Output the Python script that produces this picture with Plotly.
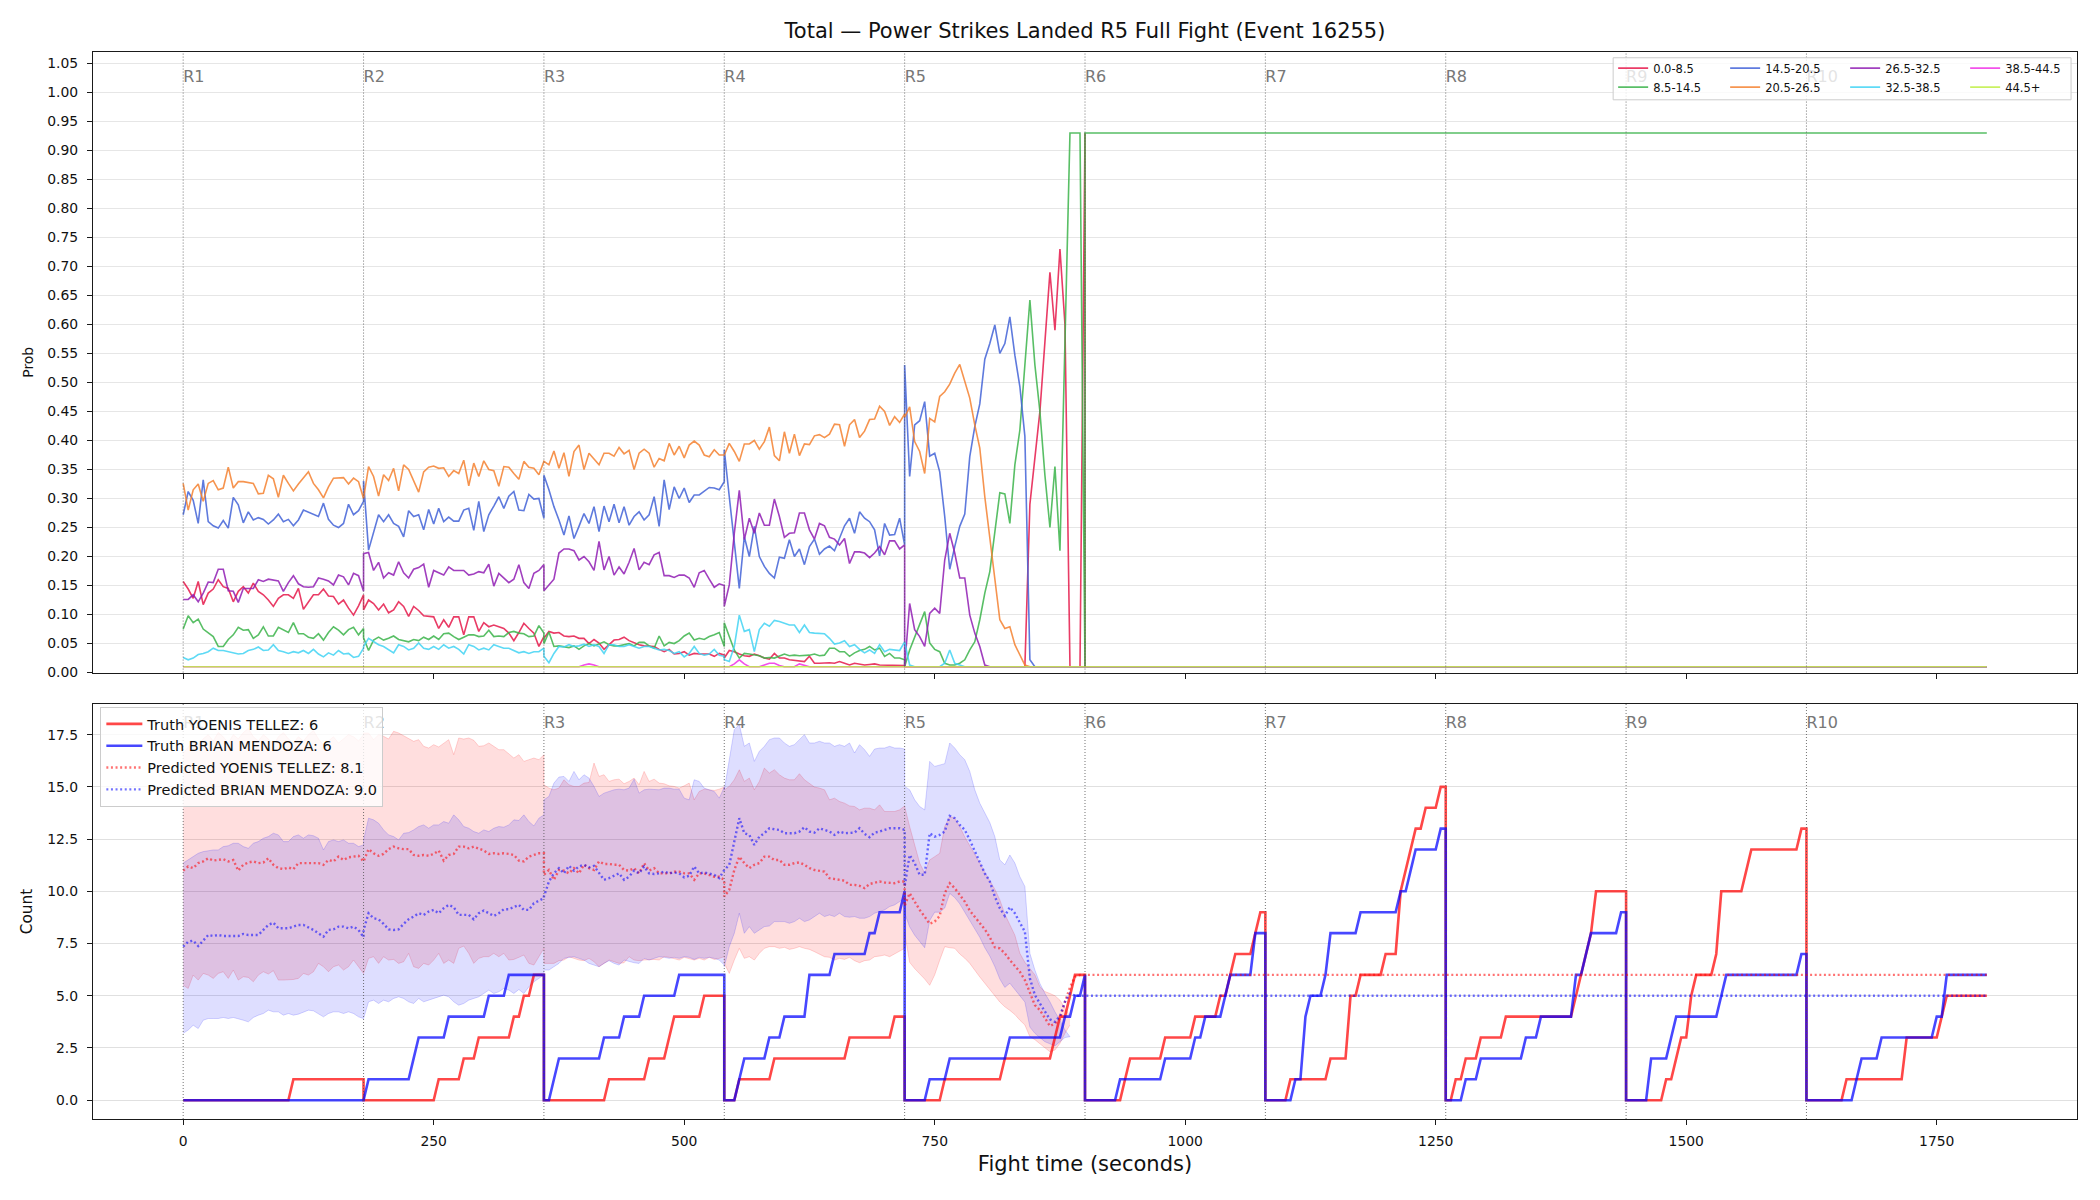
import plotly.graph_objects as go

# ---------------------------------------------------------------- data
ROUND_STARTS = [0, 180, 360, 540, 720, 900, 1080, 1260, 1440, 1620]
ROUND_LABELS = ["R1", "R2", "R3", "R4", "R5", "R6", "R7", "R8", "R9", "R10"]
SAMPLE_STEP = 5          # seconds between samples inside a round
PROB_FREEZE_T = 900      # market probabilities frozen after this time
FIGHT_END_T = 1800
X_TICKS = [0, 250, 500, 750, 1000, 1250, 1500, 1750]

TITLE = "Total \u2014 Power Strikes Landed R5 Full Fight (Event 16255)"

BIN_LABELS = ["0.0-8.5", "8.5-14.5", "14.5-20.5", "20.5-26.5",
              "26.5-32.5", "32.5-38.5", "38.5-44.5", "44.5+"]
BIN_COLORS = ["#e6194b", "#3cb44b", "#4363d8", "#f58231",
              "#911eb4", "#42d4f4", "#f032e6", "#bfef45"]
PROB_FINAL = [0.01, 0.93, 0.01, 0.01, 0.01, 0.01, 0.01, 0.01]

# probability per bin, one list per round (R1..R5), 5 s samples
P_00_08 = [
    [0.157, 0.144, 0.128, 0.157, 0.117, 0.137, 0.144, 0.160, 0.148, 0.145, 0.122, 0.140, 0.148, 0.137, 0.154, 0.140, 0.134, 0.125, 0.114, 0.128, 0.134, 0.134, 0.128, 0.145, 0.109, 0.121, 0.134, 0.134, 0.144, 0.132, 0.131, 0.118, 0.125, 0.111, 0.099, 0.115, 0.134],
    [0.108, 0.125, 0.119, 0.108, 0.118, 0.103, 0.108, 0.122, 0.114, 0.097, 0.114, 0.107, 0.098, 0.097, 0.096, 0.076, 0.091, 0.078, 0.096, 0.096, 0.065, 0.096, 0.096, 0.071, 0.086, 0.079, 0.082, 0.079, 0.076, 0.068, 0.055, 0.069, 0.085, 0.076, 0.068, 0.045, 0.062],
    [0.059, 0.071, 0.068, 0.069, 0.063, 0.062, 0.063, 0.059, 0.059, 0.050, 0.057, 0.051, 0.040, 0.048, 0.056, 0.057, 0.061, 0.055, 0.051, 0.048, 0.046, 0.045, 0.045, 0.040, 0.036, 0.040, 0.032, 0.033, 0.036, 0.030, 0.033, 0.032, 0.032, 0.032, 0.028, 0.033, 0.030],
    [0.025, 0.038, 0.036, 0.032, 0.029, 0.028, 0.032, 0.029, 0.025, 0.023, 0.033, 0.025, 0.025, 0.022, 0.021, 0.021, 0.019, 0.028, 0.016, 0.016, 0.017, 0.017, 0.016, 0.019, 0.016, 0.013, 0.016, 0.014, 0.013, 0.014, 0.015, 0.013, 0.013, 0.012, 0.012, 0.012, 0.012],
    [0.01] * 25 + [0.29, 0.37, 0.45, 0.57, 0.69, 0.59, 0.73, 0.60, 0.01, 0.01, 0.01, 0.93],
]
P_08_14 = [
    [0.075, 0.098, 0.086, 0.092, 0.075, 0.069, 0.062, 0.045, 0.045, 0.057, 0.065, 0.078, 0.073, 0.074, 0.059, 0.065, 0.079, 0.063, 0.063, 0.078, 0.073, 0.069, 0.086, 0.067, 0.067, 0.061, 0.059, 0.067, 0.056, 0.069, 0.079, 0.073, 0.065, 0.074, 0.078, 0.065, 0.076],
    [0.060, 0.038, 0.056, 0.061, 0.056, 0.059, 0.063, 0.057, 0.055, 0.053, 0.057, 0.055, 0.061, 0.057, 0.063, 0.057, 0.067, 0.068, 0.062, 0.057, 0.061, 0.065, 0.065, 0.062, 0.063, 0.073, 0.062, 0.063, 0.062, 0.069, 0.071, 0.068, 0.067, 0.062, 0.063, 0.081, 0.068],
    [0.050, 0.070, 0.045, 0.046, 0.044, 0.043, 0.046, 0.040, 0.046, 0.050, 0.046, 0.050, 0.053, 0.048, 0.046, 0.046, 0.048, 0.050, 0.046, 0.052, 0.052, 0.046, 0.042, 0.063, 0.046, 0.052, 0.050, 0.055, 0.063, 0.068, 0.056, 0.059, 0.057, 0.062, 0.065, 0.069, 0.045],
    [0.086, 0.062, 0.039, 0.025, 0.033, 0.032, 0.030, 0.029, 0.025, 0.026, 0.025, 0.029, 0.032, 0.029, 0.030, 0.029, 0.029, 0.030, 0.032, 0.029, 0.030, 0.042, 0.042, 0.036, 0.036, 0.028, 0.034, 0.038, 0.040, 0.045, 0.039, 0.042, 0.028, 0.033, 0.025, 0.025, 0.022],
    [0.010, 0.039, 0.062, 0.082, 0.105, 0.051, 0.040, 0.036, 0.016, 0.013, 0.013, 0.016, 0.022, 0.039, 0.053, 0.091, 0.137, 0.174, 0.240, 0.310, 0.308, 0.257, 0.358, 0.418, 0.530, 0.642, 0.530, 0.450, 0.340, 0.250, 0.355, 0.210, 0.570, 0.930, 0.930, 0.930, 0.010],
]
P_14_20 = [
    [0.272, 0.312, 0.297, 0.257, 0.332, 0.260, 0.253, 0.249, 0.262, 0.249, 0.302, 0.289, 0.258, 0.277, 0.263, 0.267, 0.264, 0.256, 0.263, 0.273, 0.260, 0.264, 0.253, 0.263, 0.280, 0.276, 0.272, 0.269, 0.292, 0.264, 0.254, 0.250, 0.257, 0.290, 0.272, 0.279, 0.295],
    [0.330, 0.211, 0.243, 0.272, 0.260, 0.272, 0.257, 0.252, 0.234, 0.279, 0.269, 0.272, 0.246, 0.281, 0.256, 0.283, 0.260, 0.268, 0.261, 0.261, 0.280, 0.283, 0.245, 0.295, 0.243, 0.272, 0.287, 0.303, 0.283, 0.304, 0.312, 0.280, 0.279, 0.307, 0.299, 0.300, 0.266],
    [0.340, 0.315, 0.286, 0.263, 0.237, 0.270, 0.231, 0.252, 0.274, 0.257, 0.286, 0.243, 0.287, 0.260, 0.290, 0.258, 0.286, 0.254, 0.269, 0.277, 0.263, 0.272, 0.303, 0.252, 0.332, 0.281, 0.320, 0.300, 0.318, 0.293, 0.306, 0.306, 0.312, 0.319, 0.318, 0.315, 0.329],
    [0.384, 0.303, 0.223, 0.145, 0.234, 0.200, 0.252, 0.200, 0.183, 0.171, 0.163, 0.199, 0.197, 0.229, 0.200, 0.213, 0.186, 0.217, 0.230, 0.204, 0.213, 0.218, 0.210, 0.230, 0.253, 0.266, 0.240, 0.277, 0.266, 0.260, 0.246, 0.201, 0.257, 0.237, 0.238, 0.266, 0.220],
    [0.530, 0.338, 0.427, 0.434, 0.467, 0.373, 0.378, 0.346, 0.269, 0.178, 0.217, 0.252, 0.273, 0.372, 0.424, 0.463, 0.540, 0.567, 0.599, 0.550, 0.567, 0.613, 0.547, 0.493, 0.407, 0.022] + [0.01] * 11,
]
P_20_26 = [
    [0.326, 0.280, 0.315, 0.325, 0.295, 0.326, 0.331, 0.315, 0.318, 0.354, 0.318, 0.329, 0.329, 0.328, 0.326, 0.308, 0.309, 0.340, 0.334, 0.302, 0.340, 0.326, 0.313, 0.325, 0.335, 0.346, 0.326, 0.315, 0.301, 0.320, 0.335, 0.335, 0.336, 0.325, 0.335, 0.329, 0.300],
    [0.300, 0.355, 0.338, 0.304, 0.341, 0.331, 0.352, 0.313, 0.358, 0.350, 0.329, 0.311, 0.346, 0.354, 0.356, 0.352, 0.353, 0.338, 0.348, 0.343, 0.366, 0.322, 0.361, 0.338, 0.365, 0.350, 0.348, 0.321, 0.355, 0.354, 0.343, 0.333, 0.364, 0.354, 0.352, 0.341, 0.364],
    [0.364, 0.358, 0.382, 0.352, 0.379, 0.338, 0.381, 0.392, 0.350, 0.378, 0.368, 0.358, 0.378, 0.378, 0.373, 0.388, 0.377, 0.383, 0.350, 0.378, 0.385, 0.378, 0.354, 0.369, 0.365, 0.395, 0.375, 0.390, 0.370, 0.392, 0.399, 0.392, 0.375, 0.372, 0.384, 0.375, 0.375],
    [0.375, 0.395, 0.381, 0.364, 0.394, 0.394, 0.400, 0.385, 0.398, 0.423, 0.374, 0.365, 0.415, 0.378, 0.411, 0.374, 0.394, 0.393, 0.408, 0.410, 0.405, 0.411, 0.428, 0.427, 0.390, 0.427, 0.436, 0.405, 0.416, 0.436, 0.437, 0.459, 0.450, 0.426, 0.441, 0.431, 0.446],
    [0.440, 0.458, 0.398, 0.381, 0.343, 0.438, 0.432, 0.476, 0.484, 0.497, 0.516, 0.531, 0.504, 0.473, 0.427, 0.387, 0.303, 0.229, 0.165, 0.091, 0.076, 0.079, 0.048, 0.030, 0.013] + [0.01] * 12,
]
P_26_32 = [
    [0.126, 0.126, 0.134, 0.122, 0.137, 0.156, 0.155, 0.178, 0.178, 0.141, 0.140, 0.121, 0.145, 0.145, 0.145, 0.160, 0.157, 0.161, 0.160, 0.158, 0.140, 0.155, 0.167, 0.153, 0.148, 0.147, 0.148, 0.163, 0.161, 0.158, 0.151, 0.168, 0.165, 0.151, 0.171, 0.167, 0.140],
    [0.205, 0.207, 0.176, 0.190, 0.163, 0.172, 0.168, 0.191, 0.172, 0.163, 0.178, 0.181, 0.187, 0.147, 0.176, 0.172, 0.168, 0.182, 0.176, 0.176, 0.176, 0.168, 0.170, 0.174, 0.172, 0.187, 0.149, 0.171, 0.163, 0.155, 0.161, 0.186, 0.155, 0.145, 0.171, 0.176, 0.186],
    [0.141, 0.151, 0.161, 0.206, 0.213, 0.213, 0.210, 0.194, 0.200, 0.191, 0.176, 0.226, 0.177, 0.200, 0.168, 0.182, 0.170, 0.190, 0.214, 0.177, 0.190, 0.186, 0.203, 0.207, 0.167, 0.167, 0.164, 0.168, 0.168, 0.163, 0.147, 0.172, 0.176, 0.161, 0.147, 0.153, 0.150],
    [0.114, 0.151, 0.240, 0.314, 0.229, 0.266, 0.240, 0.275, 0.254, 0.254, 0.299, 0.269, 0.233, 0.240, 0.241, 0.275, 0.275, 0.246, 0.230, 0.257, 0.253, 0.233, 0.230, 0.220, 0.231, 0.188, 0.208, 0.208, 0.206, 0.198, 0.206, 0.217, 0.203, 0.227, 0.227, 0.213, 0.220],
    [0.010, 0.119, 0.074, 0.062, 0.045, 0.102, 0.111, 0.102, 0.194, 0.240, 0.206, 0.163, 0.163, 0.099, 0.068, 0.045, 0.013] + [0.01] * 20,
]
P_32_38 = [
    [0.026, 0.022, 0.025, 0.031, 0.033, 0.036, 0.042, 0.038, 0.038, 0.036, 0.034, 0.032, 0.033, 0.038, 0.040, 0.044, 0.038, 0.039, 0.048, 0.038, 0.036, 0.033, 0.036, 0.034, 0.038, 0.033, 0.040, 0.032, 0.027, 0.034, 0.030, 0.038, 0.032, 0.033, 0.026, 0.028, 0.042],
    [0.045, 0.059, 0.053, 0.048, 0.045, 0.040, 0.034, 0.048, 0.045, 0.039, 0.042, 0.051, 0.042, 0.040, 0.045, 0.040, 0.048, 0.042, 0.045, 0.040, 0.032, 0.048, 0.045, 0.039, 0.042, 0.039, 0.048, 0.045, 0.042, 0.042, 0.038, 0.034, 0.036, 0.033, 0.036, 0.036, 0.042],
    [0.028, 0.017, 0.033, 0.045, 0.044, 0.048, 0.045, 0.046, 0.049, 0.045, 0.048, 0.045, 0.033, 0.048, 0.048, 0.045, 0.045, 0.048, 0.045, 0.042, 0.045, 0.045, 0.042, 0.039, 0.040, 0.038, 0.033, 0.036, 0.027, 0.033, 0.045, 0.033, 0.030, 0.032, 0.040, 0.030, 0.028],
    [0.022, 0.019, 0.045, 0.099, 0.071, 0.074, 0.036, 0.074, 0.085, 0.080, 0.090, 0.088, 0.085, 0.082, 0.082, 0.069, 0.082, 0.069, 0.068, 0.068, 0.067, 0.059, 0.049, 0.051, 0.055, 0.045, 0.048, 0.040, 0.034, 0.039, 0.033, 0.048, 0.036, 0.040, 0.039, 0.038, 0.053],
    [0.053, 0.013, 0.010, 0.010, 0.010, 0.010, 0.010, 0.010, 0.016, 0.039, 0.016, 0.013] + [0.01] * 25,
]
P_38_44 = [
    [0.01] * 37,
    [0.01] * 37,
    [0.01] * 8 + [0.013, 0.015, 0.013] + [0.01] * 26,
    [0.010, 0.010, 0.015, 0.022, 0.015, 0.010, 0.010, 0.010, 0.013, 0.016, 0.016, 0.012, 0.010, 0.010, 0.010, 0.015, 0.013] + [0.01] * 20,
    [0.01] * 37,
]
P_44_UP = [[0.01] * 37, [0.01] * 37, [0.01] * 37, [0.01] * 37, [0.01] * 37]

PROB_SERIES = [P_00_08, P_08_14, P_14_20, P_20_26, P_26_32, P_32_38, P_38_44, P_44_UP]

# ---- bottom panel: counts
FIGHTERS = ["YOENIS TELLEZ", "BRIAN MENDOZA"]
TRUTH_TOTAL = [6, 6]
PRED_TOTAL = [8.1, 9.0]

TRUTH_TELLEZ = [
    [0, 0, 0, 0, 0, 0, 0, 0, 0, 0, 0, 0, 0, 0, 0, 0, 0, 0, 0, 0, 0, 0, 1, 1, 1, 1, 1, 1, 1, 1, 1, 1, 1, 1, 1, 1, 1],
    [0, 0, 0, 0, 0, 0, 0, 0, 0, 0, 0, 0, 0, 0, 0, 1, 1, 1, 1, 1, 2, 2, 2, 3, 3, 3, 3, 3, 3, 3, 4, 4, 5, 5, 6, 6, 6],
    [0, 0, 0, 0, 0, 0, 0, 0, 0, 0, 0, 0, 0, 1, 1, 1, 1, 1, 1, 1, 1, 2, 2, 2, 2, 3, 4, 4, 4, 4, 4, 4, 5, 5, 5, 5, 5],
    [0, 0, 0, 1, 1, 1, 1, 1, 1, 1, 2, 2, 2, 2, 2, 2, 2, 2, 2, 2, 2, 2, 2, 2, 2, 3, 3, 3, 3, 3, 3, 3, 3, 3, 4, 4, 4],
    [0, 0, 0, 0, 0, 0, 0, 0, 1, 1, 1, 1, 1, 1, 1, 1, 1, 1, 1, 1, 2, 2, 2, 2, 2, 2, 2, 2, 2, 2, 3, 4, 4, 5, 6, 6, 6],
    [0, 0, 0, 0, 0, 0, 0, 0, 1, 2, 2, 2, 2, 2, 2, 2, 3, 3, 3, 3, 3, 3, 4, 4, 4, 4, 4, 5, 5, 6, 7, 7, 7, 7, 8, 9, 9],
    [0, 0, 0, 0, 0, 1, 1, 1, 1, 1, 1, 1, 1, 2, 2, 2, 2, 5, 5, 6, 6, 6, 6, 6, 7, 7, 7, 10, 11, 12, 13, 13, 14, 14, 14, 15, 15],
    [0, 0, 1, 1, 2, 2, 2, 3, 3, 3, 3, 3, 4, 4, 4, 4, 4, 4, 4, 4, 4, 4, 4, 4, 4, 4, 5, 6, 7, 8, 10, 10, 10, 10, 10, 10, 10],
    [0, 0, 0, 0, 0, 0, 0, 0, 1, 1, 2, 3, 3, 5, 6, 6, 6, 6, 7, 10, 10, 10, 10, 10, 11, 12, 12, 12, 12, 12, 12, 12, 12, 12, 12, 13, 13],
    [0, 0, 0, 0, 0, 0, 0, 0, 1, 1, 1, 1, 1, 1, 1, 1, 1, 1, 1, 1, 3, 3, 3, 3, 3, 3, 3, 4, 5, 5, 5, 5, 5, 5, 5, 5, 5],
]
TRUTH_MENDOZA = [
    [0, 0, 0, 0, 0, 0, 0, 0, 0, 0, 0, 0, 0, 0, 0, 0, 0, 0, 0, 0, 0, 0, 0, 0, 0, 0, 0, 0, 0, 0, 0, 0, 0, 0, 0, 0, 0],
    [0, 1, 1, 1, 1, 1, 1, 1, 1, 1, 2, 3, 3, 3, 3, 3, 3, 4, 4, 4, 4, 4, 4, 4, 4, 5, 5, 5, 5, 6, 6, 6, 6, 6, 6, 6, 6],
    [0, 0, 1, 2, 2, 2, 2, 2, 2, 2, 2, 2, 3, 3, 3, 3, 4, 4, 4, 4, 5, 5, 5, 5, 5, 5, 5, 6, 6, 6, 6, 6, 6, 6, 6, 6, 6],
    [0, 0, 0, 1, 2, 2, 2, 2, 2, 3, 3, 3, 4, 4, 4, 4, 4, 6, 6, 6, 6, 6, 7, 7, 7, 7, 7, 7, 7, 8, 8, 9, 9, 9, 9, 9, 10],
    [0, 0, 0, 0, 0, 1, 1, 1, 1, 2, 2, 2, 2, 2, 2, 2, 2, 2, 2, 2, 2, 3, 3, 3, 3, 3, 3, 3, 3, 3, 3, 3, 4, 4, 5, 5, 6],
    [0, 0, 0, 0, 0, 0, 0, 1, 1, 1, 1, 1, 1, 1, 1, 1, 2, 2, 2, 2, 2, 2, 3, 3, 4, 4, 4, 4, 5, 6, 6, 6, 6, 6, 8, 8, 8],
    [0, 0, 0, 0, 0, 0, 1, 1, 4, 5, 5, 5, 6, 8, 8, 8, 8, 8, 8, 9, 9, 9, 9, 9, 9, 9, 9, 10, 10, 11, 12, 12, 12, 12, 12, 13, 13],
    [0, 0, 0, 0, 1, 1, 1, 2, 2, 2, 2, 2, 2, 2, 2, 2, 3, 3, 3, 4, 4, 4, 4, 4, 4, 4, 6, 6, 7, 8, 8, 8, 8, 8, 8, 9, 9],
    [0, 0, 0, 0, 0, 2, 2, 2, 2, 3, 4, 4, 4, 4, 4, 4, 4, 4, 4, 5, 6, 6, 6, 6, 6, 6, 6, 6, 6, 6, 6, 6, 6, 6, 6, 7, 7],
    [0, 0, 0, 0, 0, 0, 0, 0, 0, 0, 1, 2, 2, 2, 2, 3, 3, 3, 3, 3, 3, 3, 3, 3, 3, 3, 4, 4, 6, 6, 6, 6, 6, 6, 6, 6, 6],
]

PRED_TELLEZ = [
    [10.99, 11.19, 11.11, 11.35, 11.43, 11.58, 11.47, 11.50, 11.54, 11.43, 11.50, 10.99, 11.27, 11.38, 11.43, 11.35, 11.38, 11.58, 11.27, 11.11, 11.06, 11.14, 11.06, 11.35, 11.35, 11.35, 11.35, 11.35, 11.27, 11.50, 11.43, 11.66, 11.50, 11.63, 11.66, 11.70, 11.43],
    [11.43, 12.02, 11.82, 11.70, 11.79, 12.02, 12.14, 12.06, 12.02, 12.02, 11.74, 11.70, 11.74, 11.70, 11.79, 11.95, 11.47, 11.74, 11.79, 12.14, 12.14, 12.06, 12.14, 12.06, 11.95, 11.79, 11.82, 11.79, 11.82, 11.79, 11.74, 11.47, 11.43, 11.66, 11.74, 11.82, 11.82],
    [10.79, 11.02, 10.55, 11.02, 10.99, 10.86, 11.11, 10.86, 11.27, 11.11, 11.02, 11.43, 11.31, 11.31, 11.27, 11.27, 11.02, 10.99, 11.11, 10.86, 11.35, 10.99, 11.11, 10.86, 10.86, 10.86, 10.94, 10.94, 10.86, 10.86, 10.55, 10.86, 10.86, 10.79, 10.70, 10.70, 10.55],
    [9.75, 10.07, 11.02, 11.66, 11.35, 11.11, 11.27, 11.35, 11.66, 11.66, 11.50, 11.50, 11.27, 11.27, 11.35, 11.38, 11.27, 11.11, 11.02, 10.99, 10.94, 10.63, 10.58, 10.55, 10.51, 10.31, 10.31, 10.26, 10.15, 10.35, 10.42, 10.47, 10.42, 10.39, 10.39, 10.47, 10.47],
    [9.30, 9.91, 9.51, 9.11, 8.79, 8.44, 8.55, 8.82, 9.91, 10.39, 10.15, 9.83, 9.51, 9.08, 8.79, 8.50, 8.18, 7.80, 7.32, 7.27, 7.03, 6.71, 6.42, 6.15, 5.75, 5.11, 4.55, 4.31, 3.91, 3.55, 3.67, 3.91, 4.71, 5.40, 5.91, 6.00, 6.00],
]
PRED_MENDOZA = [
    [7.35, 7.59, 7.64, 7.38, 7.64, 7.91, 7.86, 7.91, 7.86, 7.86, 7.86, 7.86, 7.96, 7.91, 7.91, 7.91, 8.15, 8.39, 8.50, 8.23, 8.23, 8.23, 8.31, 8.39, 8.39, 8.28, 8.15, 7.99, 7.83, 8.15, 8.18, 8.31, 8.31, 8.23, 8.31, 8.15, 7.80],
    [8.15, 8.95, 8.71, 8.66, 8.44, 8.18, 8.15, 8.18, 8.44, 8.66, 8.79, 8.95, 8.87, 9.03, 9.11, 8.95, 9.19, 9.35, 9.24, 8.87, 8.87, 8.87, 8.66, 8.95, 9.08, 8.95, 8.82, 8.95, 9.14, 9.14, 9.24, 9.35, 9.11, 9.11, 9.43, 9.55, 9.67],
    [9.75, 10.47, 10.86, 11.11, 10.86, 11.22, 10.99, 11.19, 11.27, 11.15, 11.22, 10.86, 10.55, 10.63, 10.74, 10.86, 10.55, 10.70, 10.99, 10.86, 11.19, 10.86, 10.83, 10.86, 10.94, 10.86, 10.90, 10.86, 10.67, 10.74, 11.19, 10.86, 10.90, 10.86, 10.79, 10.63, 11.02],
    [11.02, 11.27, 12.46, 13.50, 12.78, 12.70, 12.22, 12.62, 12.78, 13.02, 12.97, 12.94, 12.78, 12.78, 12.78, 12.86, 13.07, 12.86, 12.81, 13.02, 12.94, 12.86, 12.70, 12.86, 12.78, 12.78, 12.81, 13.02, 12.75, 12.59, 12.81, 12.86, 12.94, 13.02, 13.02, 13.02, 12.94],
    [10.23, 11.74, 11.35, 10.79, 10.79, 12.78, 12.62, 12.70, 12.86, 13.61, 13.50, 13.18, 12.94, 12.46, 11.90, 11.42, 10.86, 10.47, 9.75, 9.19, 8.82, 9.24, 8.95, 8.50, 8.07, 5.83, 5.03, 4.63, 4.23, 3.87, 3.75, 4.03, 4.71, 5.11, 5.00, 5.00, 5.00],
]
PRED_FINAL = [6.0, 5.0]

BAND_TELLEZ_HI = [
    [16.6, 16.9, 17.2, 17.0, 17.3, 17.5, 17.2, 17.6, 17.4, 17.1, 17.5, 17.3, 17.6, 17.8, 17.4, 17.2, 17.5, 17.3, 17.0, 17.4, 17.6, 17.3, 17.1, 17.4, 17.2, 17.5, 17.7, 17.3, 17.0, 17.2, 17.4, 17.1, 17.3, 17.5, 17.4, 17.2, 17.5],
    [17.58, 17.58, 17.26, 17.50, 17.42, 17.29, 17.66, 17.58, 17.45, 17.34, 17.18, 17.26, 16.94, 16.86, 17.02, 16.91, 17.10, 17.26, 16.54, 17.34, 17.29, 17.34, 17.23, 16.94, 16.97, 17.10, 16.94, 16.78, 16.78, 16.59, 16.38, 16.54, 16.22, 16.30, 16.38, 16.30, 16.54],
    [15.10, 14.94, 14.86, 14.94, 15.34, 15.10, 15.02, 15.02, 15.18, 15.21, 16.14, 15.50, 15.58, 15.26, 15.34, 15.37, 15.15, 15.26, 15.42, 15.10, 15.74, 15.26, 15.37, 15.18, 15.15, 15.05, 15.02, 14.94, 15.05, 15.18, 14.38, 14.78, 14.89, 14.86, 14.83, 14.89, 14.99],
    [14.86, 15.02, 15.34, 15.82, 15.26, 15.42, 14.86, 15.26, 15.90, 15.66, 15.82, 15.58, 15.42, 15.34, 15.34, 15.63, 15.34, 15.18, 14.99, 14.94, 14.86, 14.38, 14.46, 14.30, 14.22, 14.09, 14.06, 13.90, 13.98, 13.98, 13.90, 14.14, 13.82, 13.82, 13.82, 13.90, 14.09],
    [14.06, 13.10, 12.20, 11.35, 10.87, 11.50, 11.66, 11.82, 13.10, 13.58, 13.50, 13.10, 12.60, 12.20, 11.80, 11.35, 10.90, 10.50, 10.10, 9.59, 8.90, 8.40, 7.90, 7.03, 6.60, 6.30, 6.00, 5.43, 5.20, 5.11, 5.00, 4.79, 4.40, 4.00],
]
BAND_TELLEZ_LO = [
    [5.51, 5.35, 5.99, 5.75, 6.07, 5.99, 5.83, 6.07, 6.15, 5.83, 6.23, 5.75, 5.91, 5.88, 5.67, 5.99, 6.15, 6.04, 6.20, 5.75, 5.75, 5.75, 5.78, 5.83, 6.07, 5.99, 6.15, 6.55, 6.39, 6.15, 6.39, 6.47, 6.23, 6.39, 6.71, 6.39, 6.07],
    [6.07, 6.79, 6.87, 6.55, 6.87, 6.71, 6.74, 6.55, 6.63, 7.03, 6.39, 6.31, 6.55, 6.47, 6.71, 7.03, 6.55, 6.71, 6.55, 7.27, 7.38, 7.03, 6.55, 6.79, 6.87, 6.87, 7.03, 6.87, 7.03, 6.71, 6.74, 6.84, 6.95, 6.55, 6.47, 6.87, 7.27],
    [6.55, 6.55, 6.55, 6.68, 6.71, 6.87, 6.79, 6.71, 6.68, 6.79, 6.63, 6.39, 6.55, 6.71, 6.63, 6.55, 6.58, 6.87, 6.71, 6.68, 6.71, 6.74, 6.74, 6.71, 6.87, 6.84, 6.79, 6.71, 6.84, 6.79, 6.71, 6.79, 6.71, 6.84, 6.74, 6.79, 6.87],
    [6.55, 6.07, 6.71, 7.27, 6.79, 6.87, 6.71, 7.03, 7.27, 7.35, 7.35, 7.27, 7.32, 7.22, 7.27, 7.35, 7.27, 7.22, 7.11, 6.99, 6.87, 6.84, 6.71, 6.79, 6.74, 6.84, 6.68, 6.58, 6.68, 6.71, 6.87, 6.90, 6.95, 6.87, 6.99, 7.11, 7.27],
    [8.00, 6.60, 6.30, 6.07, 5.80, 5.50, 6.00, 6.70, 7.35, 7.30, 7.27, 7.00, 6.80, 6.55, 6.20, 5.90, 5.60, 5.27, 5.00, 4.70, 4.47, 4.30, 4.10, 3.83, 3.60, 3.04, 2.90, 2.70, 2.50, 2.32, 2.40, 2.72, 3.20, 3.60],
]
BAND_MENDOZA_HI = [
    [11.35, 11.50, 11.66, 11.82, 11.90, 11.95, 11.98, 11.98, 12.14, 12.18, 12.30, 12.30, 12.14, 12.06, 12.30, 12.38, 12.54, 12.62, 12.78, 12.70, 12.38, 12.38, 12.62, 12.70, 12.54, 12.70, 12.66, 12.54, 11.98, 12.38, 12.46, 12.38, 12.46, 12.30, 12.30, 12.14, 12.22],
    [12.46, 13.50, 13.42, 13.26, 12.94, 12.70, 12.62, 12.46, 12.78, 12.81, 12.94, 13.10, 13.18, 13.02, 13.18, 13.18, 13.34, 13.26, 13.66, 13.42, 13.10, 13.02, 12.86, 12.78, 12.94, 12.86, 13.02, 13.10, 13.07, 13.18, 13.42, 13.39, 13.66, 13.34, 13.13, 13.50, 13.66],
    [14.38, 14.54, 15.18, 15.47, 15.50, 15.26, 15.74, 15.34, 15.58, 15.42, 15.02, 14.54, 14.70, 14.78, 14.86, 14.89, 14.86, 14.94, 15.37, 14.70, 14.86, 14.89, 14.89, 14.86, 14.94, 14.94, 14.89, 14.89, 14.46, 14.38, 15.34, 15.26, 14.94, 14.86, 14.78, 14.46, 14.99],
    [14.86, 16.30, 17.74, 17.98, 16.94, 17.10, 16.22, 16.70, 16.94, 17.26, 17.34, 17.34, 17.10, 16.94, 17.02, 17.26, 17.50, 17.10, 17.10, 17.18, 17.10, 17.10, 16.94, 17.02, 16.94, 17.10, 16.62, 17.02, 16.78, 16.46, 16.81, 16.86, 16.86, 16.94, 16.86, 16.86, 16.81],
    [15.02, 14.86, 14.38, 14.06, 13.90, 16.22, 15.98, 16.06, 16.11, 17.10, 16.86, 16.54, 16.30, 15.74, 14.86, 14.22, 13.74, 13.29, 12.62, 11.50, 11.27, 11.74, 11.35, 10.70, 10.23, 7.03, 6.23, 5.59, 5.11, 4.71, 4.23, 3.83, 3.36, 3.04],
]
BAND_MENDOZA_LO = [
    [3.20, 3.36, 3.59, 3.43, 3.83, 3.91, 3.91, 3.91, 3.96, 3.91, 3.96, 3.91, 3.83, 3.75, 3.96, 4.07, 4.15, 4.31, 4.23, 4.23, 4.07, 4.15, 4.07, 4.12, 4.23, 4.31, 4.28, 4.15, 3.99, 4.15, 4.23, 4.23, 4.15, 4.23, 4.15, 3.99, 3.91],
    [3.91, 4.71, 4.79, 4.63, 4.79, 4.71, 4.87, 4.95, 4.87, 4.71, 4.63, 4.87, 4.71, 4.79, 4.87, 4.95, 5.03, 4.95, 4.71, 4.55, 4.63, 4.79, 4.87, 4.95, 5.11, 5.27, 5.11, 5.19, 5.35, 5.27, 5.11, 5.30, 5.11, 5.43, 5.67, 5.83, 5.99],
    [6.23, 6.23, 6.39, 6.55, 6.79, 6.84, 6.87, 6.79, 6.71, 6.55, 6.47, 6.39, 6.55, 6.68, 6.55, 6.47, 6.71, 6.63, 6.58, 6.55, 6.79, 6.71, 6.79, 6.87, 6.84, 6.79, 6.84, 6.79, 6.87, 6.84, 6.74, 6.84, 6.79, 6.84, 6.79, 6.71, 6.47],
    [6.39, 7.35, 7.99, 8.95, 7.99, 8.31, 7.99, 8.15, 8.31, 8.34, 8.55, 8.55, 8.55, 8.47, 8.55, 8.71, 8.55, 8.63, 8.79, 8.95, 8.79, 8.87, 8.79, 8.95, 8.79, 8.76, 8.79, 8.71, 8.71, 8.79, 8.95, 9.03, 9.11, 9.27, 9.35, 9.51, 9.67],
    [8.95, 8.30, 7.90, 7.60, 7.30, 8.60, 9.00, 9.00, 9.20, 9.90, 9.70, 9.40, 9.00, 8.60, 8.20, 7.80, 7.30, 6.90, 6.40, 5.80, 5.40, 5.60, 5.30, 5.00, 4.70, 3.50, 3.20, 3.00, 2.80, 2.70, 2.60, 2.80, 3.00, 3.04],
]


# ---------------------------------------------------------------- helpers
def round_x(rounds):
    xs = []
    for r, vals in enumerate(rounds):
        xs.extend(ROUND_STARTS[r] + SAMPLE_STEP * k for k in range(len(vals)))
    return xs


def flat(rounds):
    return [v for vals in rounds for v in vals]


fig = go.Figure()

# ---------------------------------------------------------------- top panel
LEGEND_COL_W = [67, 75, 75, 62]
for i, (lab, col, rounds, fin) in enumerate(zip(BIN_LABELS, BIN_COLORS, PROB_SERIES, PROB_FINAL)):
    fig.add_trace(go.Scatter(
        x=round_x(rounds) + [PROB_FREEZE_T, FIGHT_END_T],
        y=flat(rounds) + [fin, fin],
        mode="lines", name=lab,
        line=dict(color=col, width=1.6), opacity=0.85,
        xaxis="x", yaxis="y",
        legend="legend" if i % 2 == 0 else "legend3",
        legendwidth=LEGEND_COL_W[i // 2],
        hoverinfo="skip",
    ))

fig.add_trace(go.Scatter(
    x=ROUND_STARTS, y=[1.025] * len(ROUND_STARTS), text=ROUND_LABELS,
    mode="text", textposition="middle right",
    textfont=dict(size=16, color="#777777", family="DejaVu Sans"),
    xaxis="x", yaxis="y", showlegend=False, hoverinfo="skip",
))

# ---------------------------------------------------------------- bottom panel
band_specs = [
    (BAND_TELLEZ_HI, BAND_TELLEZ_LO, "rgba(255,0,0,0.13)", "rgba(255,0,0,0.16)"),
    (BAND_MENDOZA_HI, BAND_MENDOZA_LO, "rgba(0,0,255,0.13)", "rgba(0,0,255,0.16)"),
]
for hi, lo, fillc, edgec in band_specs:
    fig.add_trace(go.Scatter(x=round_x(hi), y=flat(hi), mode="lines",
                             line=dict(color=edgec, width=1), xaxis="x2", yaxis="y2",
                             showlegend=False, legend="legend2", hoverinfo="skip"))
    fig.add_trace(go.Scatter(x=round_x(lo), y=flat(lo), mode="lines",
                             line=dict(color=edgec, width=1), fill="tonexty", fillcolor=fillc,
                             xaxis="x2", yaxis="y2", showlegend=False, legend="legend2",
                             hoverinfo="skip"))

truth_cols = ["rgba(255,0,0,0.72)", "rgba(0,0,255,0.72)"]
pred_cols = ["rgba(255,0,0,0.55)", "rgba(0,0,255,0.55)"]
for name, tot, rounds, col in zip(FIGHTERS, TRUTH_TOTAL, [TRUTH_TELLEZ, TRUTH_MENDOZA], truth_cols):
    fig.add_trace(go.Scatter(x=round_x(rounds), y=flat(rounds), mode="lines",
                             name=f"Truth {name}: {tot}",
                             line=dict(color=col, width=2.6),
                             xaxis="x2", yaxis="y2", legend="legend2", hoverinfo="skip"))
for name, tot, rounds, fin, col in zip(FIGHTERS, PRED_TOTAL, [PRED_TELLEZ, PRED_MENDOZA], PRED_FINAL, pred_cols):
    fig.add_trace(go.Scatter(x=round_x(rounds) + [FIGHT_END_T], y=flat(rounds) + [fin], mode="lines",
                             name=f"Predicted {name}: {tot}",
                             line=dict(color=col, width=2.4, dash="2px,2.6px"),
                             xaxis="x2", yaxis="y2", legend="legend2", hoverinfo="skip"))

fig.add_trace(go.Scatter(
    x=ROUND_STARTS, y=[18.0] * len(ROUND_STARTS), text=ROUND_LABELS,
    mode="text", textposition="middle right",
    textfont=dict(size=16, color="#777777", family="DejaVu Sans"),
    xaxis="x2", yaxis="y2", showlegend=False, legend="legend2", hoverinfo="skip",
))

# ---------------------------------------------------------------- shapes
shapes = []
for xr, yr in (("x", "y domain"), ("x2", "y2 domain")):
    for s in ROUND_STARTS:
        shapes.append(dict(type="line", xref=xr, yref=yr, x0=s, x1=s, y0=0, y1=1,
                           line=dict(color="rgba(80,80,80,0.8)", width=1, dash="1px,2px"),
                           layer="above"))
shapes.append(dict(type="rect", xref="paper", yref="paper",
                   x0=0.7662, x1=0.9970, y0=0.9552, y1=0.9946,
                   line=dict(color="#cccccc", width=1),
                   fillcolor="rgba(255,255,255,0.8)", layer="above"))

# ---------------------------------------------------------------- layout
axis_common = dict(showline=True, mirror=True, linecolor="#1a1a1a", linewidth=1.3,
                   ticks="outside", ticklen=5, tickwidth=1.1, tickcolor="#1a1a1a",
                   zeroline=False, tickfont=dict(size=13.9))

fig.update_layout(
    width=2100, height=1200,
    margin=dict(l=92.7, r=23, t=52.2, b=81, autoexpand=False),
    paper_bgcolor="white", plot_bgcolor="white",
    font=dict(family="DejaVu Sans", color="#111111", size=13.9),
    hovermode=False,
    title=dict(text=TITLE, x=0.5, xref="paper", xanchor="center",
               y=1 - 31 / 1200, yref="container", yanchor="middle",
               font=dict(size=21, color="#111111")),
    xaxis=dict(domain=[0, 1], anchor="y", range=[-90, 1890], tickvals=X_TICKS,
               showticklabels=False, showgrid=False, **axis_common),
    yaxis=dict(domain=[0.4184, 1], anchor="x", range=[0, 1.0695], tick0=0, dtick=0.05,
               tickformat=".2f", showgrid=True, gridcolor="#e6e6e6", gridwidth=1,
               ticklabelstandoff=6,
               title=dict(text="Prob", font=dict(size=13.9), standoff=10), **axis_common),
    xaxis2=dict(domain=[0, 1], anchor="y2", range=[-90, 1890], tickvals=X_TICKS,
                matches="x", showgrid=False, ticklabelstandoff=4,
                title=dict(text="Fight time (seconds)", font=dict(size=21), standoff=8),
                **axis_common),
    yaxis2=dict(domain=[0, 0.389], anchor="x2", range=[-0.9, 18.97], tick0=0, dtick=2.5,
                tickformat=".1f", showgrid=True, gridcolor="#e0e0e0", gridwidth=1,
                ticklabelstandoff=6,
                title=dict(text="Count", font=dict(size=15.3), standoff=10), **axis_common),
    legend=dict(x=0.7662, y=0.9985, xanchor="left", yanchor="top", orientation="h",
                traceorder="normal",
                bgcolor="rgba(0,0,0,0)", borderwidth=0, font=dict(size=11.5),
                itemwidth=30, tracegroupgap=0),
    legend3=dict(x=0.7662, y=0.9807, xanchor="left", yanchor="top", orientation="h",
                 traceorder="normal",
                 bgcolor="rgba(0,0,0,0)", borderwidth=0, font=dict(size=11.5),
                 itemwidth=30, tracegroupgap=0),
    legend2=dict(x=0.0037, y=0.3862, xanchor="left", yanchor="top", orientation="v",
                 traceorder="normal",
                 bgcolor="rgba(255,255,255,0.8)", bordercolor="#cccccc", borderwidth=1,
                 font=dict(size=14.5), itemwidth=36, tracegroupgap=0),
    shapes=shapes,
)

fig.write_html("out.html")
